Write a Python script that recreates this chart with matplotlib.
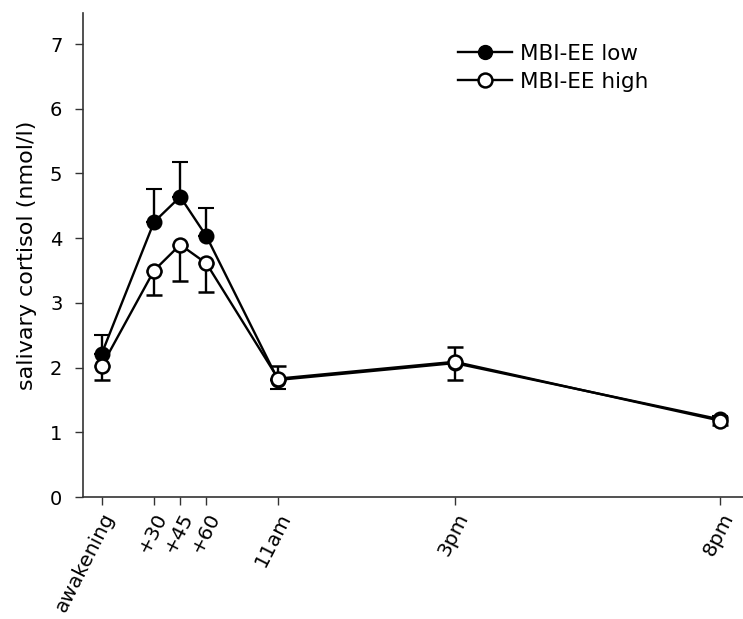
import numpy as np
import matplotlib.pyplot as plt
from matplotlib.lines import Line2D

# sampling times (minutes from awakening) and tick labels
times = [0, 30, 45, 60, 101, 202, 354]
tick_labels = ['awakening', '+30', '+45', '+60', '11am', '3pm', '8pm']

# MBI-EE low (filled), error shown upwards except at 11am
low_mean = [2.21, 4.25, 4.64, 4.03, 1.81, 2.07, 1.20]
low_err_up = [0.30, 0.51, 0.54, 0.44, 0.0, 0.0, 0.05]
low_err_down = [0.0, 0.0, 0.0, 0.0, 0.14, 0.0, 0.0]

# MBI-EE high (open), error shown downwards except at 11am / 3pm
high_mean = [2.02, 3.50, 3.90, 3.61, 1.83, 2.09, 1.18]
high_err_up = [0.0, 0.0, 0.0, 0.0, 0.19, 0.23, 0.05]
high_err_down = [0.21, 0.37, 0.56, 0.44, 0.0, 0.28, 0.07]

plt.rcParams['font.family'] = ['DejaVu Sans']

fig = plt.figure(figsize=(7.43, 6.19), dpi=100)
ax = fig.add_axes([0.112, 0.197, 0.888, 0.782])

ax.errorbar(times, low_mean, yerr=[low_err_down, low_err_up], color='black',
            lw=1.7, marker='o', ms=10, mfc='black', mec='black', mew=1.5,
            capsize=5.5, capthick=1.7, elinewidth=1.7, zorder=3)
ax.errorbar(times, high_mean, yerr=[high_err_down, high_err_up], color='black',
            lw=1.7, marker='o', ms=10, mfc='white', mec='black', mew=1.8,
            capsize=5.5, capthick=1.7, elinewidth=1.7, zorder=4)

ax.set_xlim(-10.5, 367)
ax.set_ylim(0, 7.48)
ax.set_yticks(range(0, 8))
ax.set_xticks(times)
ax.set_xticklabels(tick_labels, rotation=63, ha='right', rotation_mode='anchor',
                   fontsize=14.5)
ax.tick_params(axis='y', labelsize=14, length=6, width=1, colors='#333333',
               labelcolor='black', pad=9)
ax.tick_params(axis='x', length=6, width=1, colors='#333333',
               labelcolor='black', pad=3)
ax.set_ylabel('salivary cortisol (nmol/l)', fontsize=16, labelpad=9)

for side in ['top', 'right']:
    ax.spines[side].set_visible(False)
for side in ['left', 'bottom']:
    ax.spines[side].set_color('#333333')
    ax.spines[side].set_linewidth(1.2)

handles = [
    Line2D([], [], color='black', lw=1.7, marker='o', ms=10, mfc='black', mec='black'),
    Line2D([], [], color='black', lw=1.7, marker='o', ms=10, mfc='white', mec='black', mew=1.8),
]
fig.legend(handles, ['MBI-EE low', 'MBI-EE high'], loc='upper left',
           bbox_to_anchor=(0.616, 0.929), frameon=False, fontsize=15.5,
           handlelength=2.5, handletextpad=0.4, labelspacing=0.36, borderpad=0,
           borderaxespad=0)

fig.savefig('out.png', dpi=100)
